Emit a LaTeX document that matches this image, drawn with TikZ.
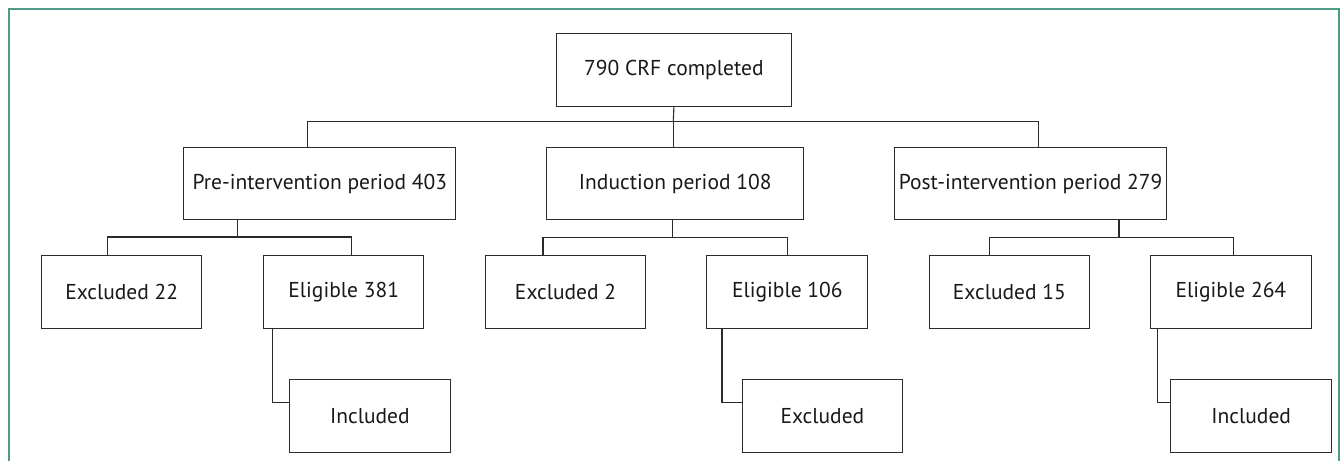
\documentclass[tikz,border=0pt]{standalone}
\usepackage{fontspec}
\setmainfont{PT Sans}
\newfontfamily\boxfont[Scale=1]{PT Sans}
\definecolor{frameg}{HTML}{4D9A86}
\definecolor{lineg}{HTML}{2A2A2A}
\begin{document}
\begin{tikzpicture}[x=1pt,y=-1pt,
  box/.style={draw=lineg, line width=1.1pt, inner sep=0pt, anchor=north west,
    font=\boxfont\fontsize{21.5}{25}\selectfont, text=black!90},
  ln/.style={draw=lineg, line width=1.1pt, line join=miter}]
\useasboundingbox (0,0) rectangle (1341,461);
\fill[white] (0,0) rectangle (1341,461);
\draw[frameg, line width=2pt] (9,461) -- (9,9) -- (1339,9) -- (1339,461);
% boxes
\node[box, minimum width=234.7, minimum height=73] (top) at (556,33) {790 CRF completed};
\node[box, minimum width=272, minimum height=72] (pre) at (183.3,147.3) {Pre-intervention period 403};
\node[box, minimum width=257.3, minimum height=72] (ind) at (546,147.3) {Induction period 108};
\node[box, minimum width=272, minimum height=72] (post) at (894,147.3) {Post-intervention period 279};
\node[box, minimum width=160.3, minimum height=73] (ex1) at (41,255.3) {Excluded 22};
\node[box, minimum width=160.3, minimum height=73] (el1) at (263,255.3) {Eligible 381};
\node[box, minimum width=160.6, minimum height=73] (ex2) at (484.7,255.3) {Excluded 2};
\node[box, minimum width=161, minimum height=73] (el2) at (706.3,255.3) {Eligible 106};
\node[box, minimum width=160.3, minimum height=73] (ex3) at (928.7,255.3) {Excluded 15};
\node[box, minimum width=160.7, minimum height=73] (el3) at (1150,255.3) {Eligible 264};
\node[box, minimum width=161.3, minimum height=72.4] (in1) at (288.7,379.3) {Included};
\node[box, minimum width=160.3, minimum height=72.4] (in2) at (741.7,379.3) {Excluded};
\node[box, minimum width=160.7, minimum height=72.4] (in3) at (1170.3,379.3) {Included};
% junction coordinates
\coordinate (h0) at (673.3,121.5);
\coordinate (h0l) at (307.7,121.5);
\coordinate (h0r) at (1038.7,121.5);
\coordinate (h1) at (237.3,237);
\coordinate (h1l) at (107.3,237);
\coordinate (h1r) at (351.3,237);
\coordinate (h2) at (672.3,237.5);
\coordinate (h2l) at (543,237.5);
\coordinate (h2r) at (787.3,237.5);
\coordinate (h3) at (1119,237.5);
\coordinate (h3l) at (989.3,237.5);
\coordinate (h3r) at (1233.3,237.5);
\coordinate (k1) at (272.7,402.7);
\coordinate (k2) at (722,402.7);
\coordinate (k3) at (1157.3,402.7);
% connectors level 1
\draw[ln] (top.south) -- (h0);
\draw[ln] (h0l |- pre.north) -- (h0l) -- (h0r) -- (h0r |- post.north);
\draw[ln] (h0) -- (h0 |- ind.north);
% level 2
\draw[ln] (h1 |- pre.south) -- (h1);
\draw[ln] (h1l |- ex1.north) -- (h1l) -- (h1r) -- (h1r |- el1.north);
\draw[ln] (h2 |- ind.south) -- (h2);
\draw[ln] (h2l |- ex2.north) -- (h2l) -- (h2r) -- (h2r |- el2.north);
\draw[ln] (h3 |- post.south) -- (h3);
\draw[ln] (h3l |- ex3.north) -- (h3l) -- (h3r) -- (h3r |- el3.north);
% level 3
\draw[ln] (k1 |- el1.south) -- (k1) -- (k1 -| in1.west);
\draw[ln] (k2 |- el2.south) -- (k2) -- (k2 -| in2.west);
\draw[ln] (k3 |- el3.south) -- (k3) -- (k3 -| in3.west);
\end{tikzpicture}
\end{document}
